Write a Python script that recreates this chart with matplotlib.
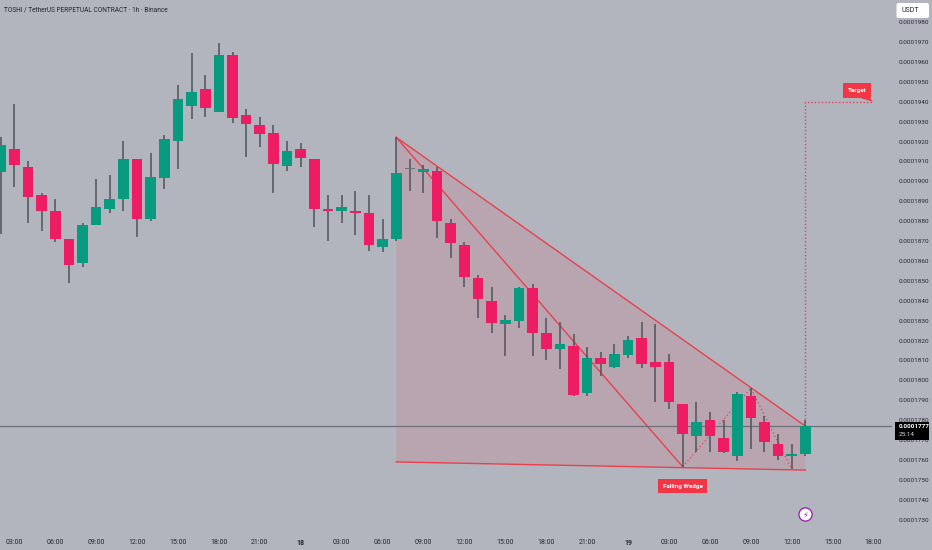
import matplotlib
matplotlib.use('Agg')
import matplotlib.pyplot as plt
from matplotlib.patches import FancyBboxPatch, Rectangle
from matplotlib.transforms import IdentityTransform

# prices are in units of 0.0000001
opens = [1904.8, 1916.1, 1907.4, 1892.9, 1885.1, 1871.2, 1858.9, 1877.9, 1885.9, 1890.9,
         1911.2, 1880.9, 1901.8, 1920.1, 1937.8, 1946.4, 1935.0, 1963.3, 1933.3, 1928.1,
         1924.1, 1907.9, 1916.1, 1911.2, 1886.1, 1884.9, 1885.2, 1884.2, 1867.0, 1871.0,
         1906.0, 1904.8, 1905.2, 1879.2, 1868.2, 1851.2, 1840.0, 1828.1, 1829.8, 1846.2,
         1823.9, 1815.9, 1817.1, 1793.8, 1811.2, 1806.7, 1812.9, 1821.3, 1809.2, 1809.2,
         1788.3, 1772.2, 1780.1, 1771.0, 1762.1, 1792.1, 1779.0, 1767.8, 1762.1, 1762.8]
highs = [1922.1, 1938.8, 1910.0, 1894.3, 1891.1, 1871.2, 1879.2, 1901.2, 1903.0, 1920.3,
         1911.2, 1914.1, 1923.3, 1948.2, 1964.3, 1953.4, 1969.5, 1965.0, 1936.2, 1932.1,
         1928.1, 1920.3, 1919.1, 1911.2, 1893.1, 1893.1, 1895.3, 1893.1, 1881.2, 1922.1,
         1911.2, 1908.0, 1907.4, 1881.2, 1869.3, 1852.9, 1847.1, 1832.8, 1846.7, 1848.2,
         1831.3, 1829.3, 1823.1, 1816.9, 1814.2, 1818.2, 1822.3, 1829.3, 1828.3, 1813.2,
         1788.3, 1789.1, 1784.1, 1780.1, 1794.0, 1796.1, 1782.1, 1773.0, 1768.0, 1780.1]
lows = [1873.4, 1897.3, 1879.2, 1875.2, 1869.3, 1849.1, 1857.1, 1877.9, 1884.2, 1885.1,
        1872.2, 1879.9, 1896.1, 1906.2, 1931.3, 1932.1, 1935.0, 1929.1, 1912.0, 1917.4,
        1894.1, 1905.2, 1907.4, 1877.2, 1870.2, 1879.2, 1873.2, 1865.1, 1864.5, 1870.2,
        1895.3, 1894.3, 1871.3, 1861.3, 1847.1, 1831.3, 1823.9, 1812.4, 1826.4, 1812.4,
        1810.2, 1805.5, 1792.3, 1792.3, 1802.2, 1806.2, 1811.4, 1806.2, 1789.1, 1785.4,
        1756.6, 1764.1, 1764.0, 1763.3, 1759.3, 1765.3, 1764.0, 1760.0, 1755.3, 1762.0]
closes = [1918.1, 1908.0, 1891.9, 1885.1, 1871.0, 1857.9, 1878.2, 1887.3, 1891.1, 1911.2,
          1881.1, 1902.2, 1921.1, 1941.2, 1945.0, 1937.0, 1963.3, 1931.8, 1928.8, 1923.8,
          1908.9, 1915.1, 1911.9, 1885.9, 1884.9, 1887.3, 1883.9, 1868.0, 1871.2, 1904.2,
          1906.0, 1906.0, 1879.9, 1868.8, 1851.9, 1841.0, 1829.0, 1830.1, 1846.2, 1823.9,
          1815.9, 1818.1, 1792.8, 1811.2, 1808.2, 1813.1, 1820.1, 1808.2, 1806.8, 1789.1,
          1773.0, 1779.0, 1772.0, 1763.8, 1793.1, 1780.9, 1769.0, 1762.0, 1763.1, 1777.0]

x_tick_pos = [1, 4, 7, 10, 13, 16, 19, 22, 25, 28, 31, 34, 37, 40, 43, 46, 49, 52, 55, 58, 61, 64]
x_tick_labels = ['03:00', '06:00', '09:00', '12:00', '15:00', '18:00', '21:00', '18',
                 '03:00', '06:00', '09:00', '12:00', '15:00', '18:00', '21:00', '19',
                 '03:00', '06:00', '09:00', '12:00', '15:00', '18:00']
y_ticks = list(range(1730, 1990, 10))

# drawing points (bar index, price)
upper_x, upper_y = [29, 59], [1922.1, 1777.0]
inner_x, inner_y = [29, 50], [1922.1, 1756.6]
lower_x, lower_y = [29, 59], [1759.0, 1754.9]
zigzag_x, zigzag_y = [50, 55, 58], [1756.6, 1796.1, 1755.3]
target_x, target_y = [59, 59, 63.95], [1777.0, 1940.0, 1940.0]

BG = '#b2b5be'
GREEN = '#089b80'
RED = '#ee1c62'
WICK = '#4e525c'
LINE = '#e8404f'
TXT = '#23262f'

plt.rcParams['font.family'] = ['Roboto', 'DejaVu Sans']

fig = plt.figure(figsize=(9.32, 5.5), dpi=100, facecolor=BG)
ax = fig.add_axes([0, 20 / 550, 892 / 932, 530 / 550], facecolor=BG)

# candles
xs = list(range(len(opens)))
ax.vlines(xs, lows, highs, color=WICK, lw=1.1, zorder=3)
for i in xs:
    o, c = opens[i], closes[i]
    col = GREEN if c > o else RED if c < o else '#6f757c'
    h = max(abs(c - o), 0.5)
    ax.bar(i, h, bottom=min(o, c), width=0.78, color=col, linewidth=0, zorder=4)

# wedge
ax.fill(upper_x + lower_x[::-1], upper_y + lower_y[::-1], color='#f23645', alpha=0.12, lw=0, zorder=1)
ax.plot(upper_x, upper_y, color=LINE, lw=1, zorder=2)
ax.plot(inner_x, inner_y, color=LINE, lw=1, zorder=2)
ax.plot(lower_x, lower_y, color=LINE, lw=1, zorder=2)
ax.plot(zigzag_x, zigzag_y, color=LINE, lw=0.9, ls=(0, (1, 2)), zorder=2)
ax.plot(target_x, target_y, color='#e2405c', lw=1, ls=(0, (1, 1.5)), zorder=2)

# current price line
ax.axhline(closes[-1], color='#6e7179', lw=0.9, zorder=2)

# labels
box = dict(boxstyle='square,pad=0.75', fc='#f23645', ec='none')
ax.text(50, 1746.9, 'Falling Wedge', color='white', fontsize=4.5, fontweight='bold',
        ha='center', va='center', bbox=box, zorder=6)
ax.text(62.8, 1945.6, 'Target', color='white', fontsize=4.5, fontweight='bold',
        ha='center', va='center', bbox=box, zorder=6)
ax.fill([63.0, 63.75, 63.95], [1941.9, 1941.9, 1940.0], color='#f23645', lw=0, zorder=6)

# lightning icon
ax.plot([59], [1732.6], marker='o', ms=9.5, mfc='white', mec='#9c27b0', mew=1, zorder=6)
ax.text(59, 1732.6, '\u26a1', color='#9c27b0', fontsize=6, ha='center', va='center',
        family='DejaVu Sans', zorder=7)

# axes
ax.set_xlim(-0.049, 65.35)
ax.set_ylim(1724.8, 1991.1)
ax.set_xticks(x_tick_pos, x_tick_labels)
ax.set_yticks(y_ticks, [f'{v / 1e7:.7f}' for v in y_ticks])
ax.yaxis.tick_right()
ax.tick_params(axis='both', length=0, labelcolor=TXT)
ax.tick_params(axis='y', pad=4.8, labelsize=4.55)
ax.tick_params(axis='x', pad=6.5, labelsize=5)
for lab in ax.get_xticklabels():
    if lab.get_text() in ('18', '19'):
        lab.set_fontweight('bold')
for s in ax.spines.values():
    s.set_visible(False)

# title
fig.text(4 / 932, 1 - 10 / 550, 'TOSHI / TetherUS PERPETUAL CONTRACT · 1h · Binance', color=TXT,
         fontsize=4.7, ha='left', va='center')

# USDT button
usdt = FancyBboxPatch((896.5, 550 - 18), 32.5, 15, boxstyle='round,pad=0,rounding_size=2',
                      fc='white', ec='none', transform=IdentityTransform(), zorder=5)
fig.add_artist(usdt)
fig.text(901 / 932, 1 - 10.5 / 550, 'USDT', color=TXT, fontsize=5, ha='left', va='center', zorder=6)

# last price tag
tag = Rectangle((894.7, 550 - 440), 34.3, 18.3, fc='black', ec='none',
                transform=IdentityTransform(), zorder=5)
fig.add_artist(tag)
fig.text(898.5 / 932, 1 - 426.3 / 550, f'{closes[-1] / 1e7:.7f}', color='white', fontsize=4.55,
         fontweight='bold', ha='left', va='center', zorder=6)
fig.text(898.5 / 932, 1 - 435 / 550, '25:14', color='#d8d8d8', fontsize=4.55,
         ha='left', va='center', zorder=6)

fig.savefig('out.png', dpi=100, facecolor=BG)
